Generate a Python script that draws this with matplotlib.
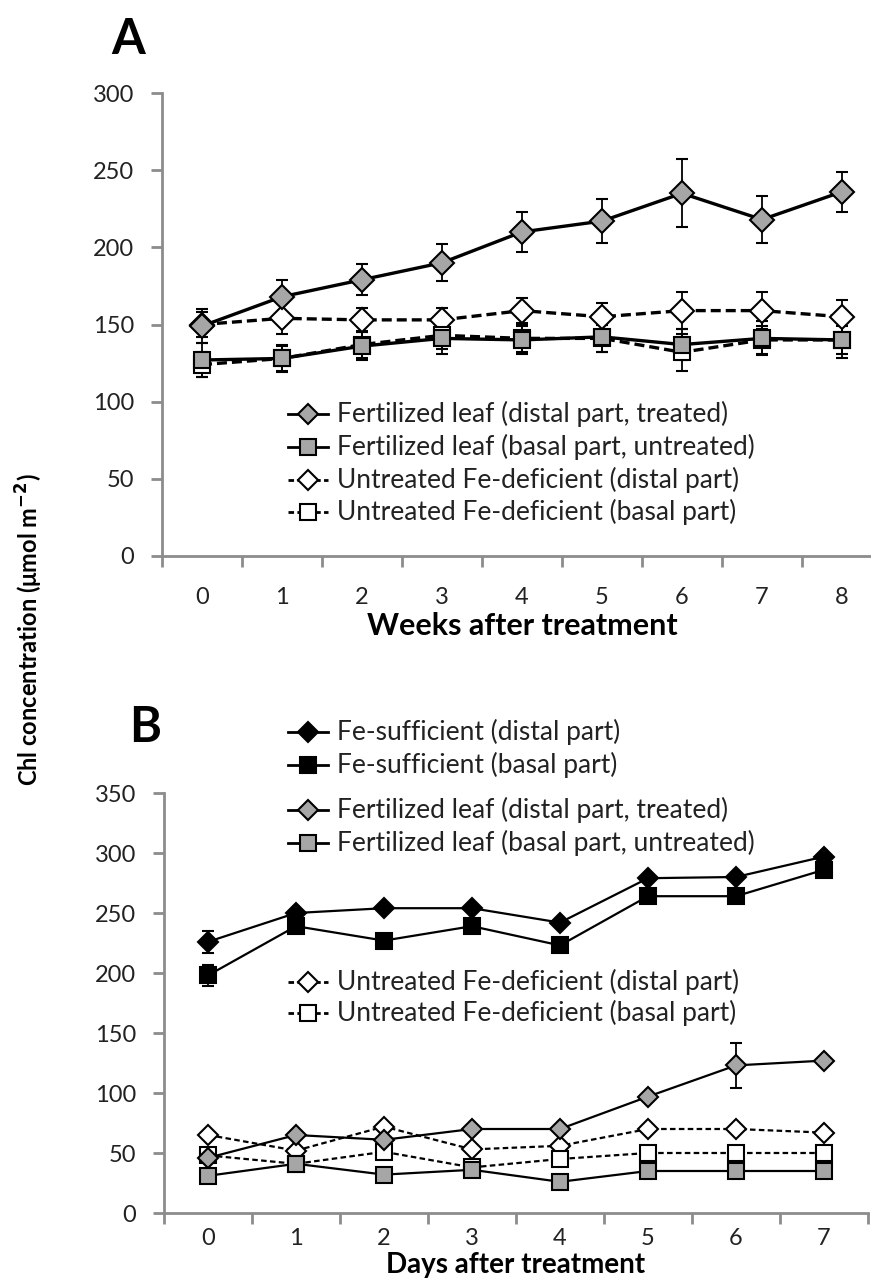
import matplotlib
matplotlib.use("Agg")
import matplotlib.pyplot as plt
from matplotlib.lines import Line2D
import numpy as np

plt.rcParams['font.family'] = ['Lato', 'DejaVu Sans']

# panel A data (weeks after treatment)
weeks = np.arange(9)
a_fert_distal = [149, 168, 179, 190, 210, 217, 235, 218, 236]
a_fert_distal_err = [11, 11, 10, 12, 13, 14, 22, 15, 13]
a_fert_basal = [127, 128, 136, 141, 140, 142, 137, 141, 140]
a_fert_basal_err = [11, 9, 9, 10, 9, 10, 10, 11, 12]
a_def_distal = [150, 154, 153, 153, 159, 155, 159, 159, 155]
a_def_distal_err = [8, 10, 8, 8, 8, 9, 12, 12, 11]
a_def_basal = [124, 128, 137, 143, 141, 141, 132, 140, 140]
a_def_basal_err = [8, 8, 9, 9, 9, 9, 12, 9, 9]

# panel B data (days after treatment)
days = np.arange(8)
b_suff_distal = [226, 250, 254, 254, 242, 279, 280, 297]
b_suff_distal_err = [9, 3, 3, 3, 3, 3, 3, 3]
b_suff_basal = [198, 239, 227, 239, 223, 264, 264, 286]
b_suff_basal_err = [9, 3, 3, 3, 3, 3, 3, 3]
b_fert_distal = [46, 65, 61, 70, 70, 97, 123, 127]
b_fert_distal_err = [3, 3, 3, 3, 3, 3, 19, 3]
b_fert_basal = [31, 41, 32, 36, 26, 35, 35, 35]
b_def_distal = [65, 52, 72, 53, 56, 70, 70, 67]
b_def_basal = [48, 41, 51, 38, 45, 50, 50, 50]

lab_fert_distal = "Fertilized leaf (distal part, treated)"
lab_fert_basal = "Fertilized leaf (basal part, untreated)"
lab_def_distal = "Untreated Fe-deficient (distal part)"
lab_def_basal = "Untreated Fe-deficient (basal part)"
lab_suff_distal = "Fe-sufficient (distal part)"
lab_suff_basal = "Fe-sufficient (basal part)"

W, H = 871, 1280
GRAY = "#a6a6a6"
SPINE = "#8c8c8c"

fig = plt.figure(figsize=(W / 100, H / 100), dpi=100)
axA = fig.add_axes([162 / W, 1 - 556 / H, 720 / W, 463 / H])
axB = fig.add_axes([164 / W, 1 - 1213 / H, 704 / W, 420 / H])


def style_axis(ax, n, ymax, step, xpad):
    ax.set_xlim(-0.5, n - 0.5)
    ax.set_ylim(0, ymax)
    for s in ["top", "right"]:
        ax.spines[s].set_visible(False)
    for s in ["left", "bottom"]:
        ax.spines[s].set_color(SPINE)
        ax.spines[s].set_linewidth(2)
    ax.set_yticks(np.arange(0, ymax + 1, step))
    ax.set_xticks(np.arange(n))
    ax.set_xticks(np.arange(-0.5, n, 1), minor=True)
    ax.tick_params(axis="y", length=8, width=2, color=SPINE, pad=12, labelsize=17, labelcolor="#222222")
    ax.tick_params(axis="x", which="major", length=0, pad=xpad, labelsize=17, labelcolor="#222222")
    ax.tick_params(axis="x", which="minor", length=8, width=2, color=SPINE)


def series(ax, x, y, err, marker, face, ls, ms, lw):
    ax.errorbar(x, y, yerr=err, color="black", ls=ls, lw=lw, marker=marker, ms=ms,
                mfc=face, mec="black", mew=1.5, ecolor="black", elinewidth=1.3,
                capsize=4, capthick=1.3)


dash_a = (0, (3, 1.5))
dash_b = (0, (2.5, 1.5))

# panel A
series(axA, weeks, a_def_distal, a_def_distal_err, "D", "white", dash_a, 12, 2.4)
series(axA, weeks, a_def_basal, a_def_basal_err, "s", "white", dash_a, 12, 2.4)
series(axA, weeks, a_fert_distal, a_fert_distal_err, "D", GRAY, "-", 12, 2.4)
series(axA, weeks, a_fert_basal, a_fert_basal_err, "s", GRAY, "-", 12, 2.4)
style_axis(axA, 9, 300, 50, 22)
axA.set_xlabel("Weeks after treatment", fontsize=22, fontweight="bold", labelpad=3)

# panel B
series(axB, days, b_def_distal, None, "D", "white", dash_b, 10, 1.6)
series(axB, days, b_def_basal, None, "s", "white", dash_b, 12, 1.6)
series(axB, days, b_fert_distal, b_fert_distal_err, "D", GRAY, "-", 10, 1.6)
series(axB, days, b_fert_basal, None, "s", GRAY, "-", 12, 1.6)
series(axB, days, b_suff_distal, b_suff_distal_err, "D", "black", "-", 10, 1.6)
series(axB, days, b_suff_basal, b_suff_basal_err, "s", "black", "-", 12, 1.6)
style_axis(axB, 8, 350, 50, 11)
axB.set_xlabel("Days after treatment", fontsize=20, fontweight="bold", labelpad=2)


def legend_row(y, marker, face, ls, ms, label):
    yf = 1 - y / H
    fig.add_artist(Line2D([288 / W, 328 / W], [yf, yf], transform=fig.transFigure,
                          color="black", lw=2, ls=ls))
    fig.add_artist(Line2D([308 / W], [yf], transform=fig.transFigure, marker=marker,
                          ms=ms, mfc=face, mec="black", mew=1.5, ls="none"))
    fig.text(337 / W, yf, label, va="center", ha="left", fontsize=19, color="#222222")


ls_leg = (0, (2, 1.2))
legend_row(414, "D", GRAY, "-", 10, lab_fert_distal)
legend_row(447, "s", GRAY, "-", 11, lab_fert_basal)
legend_row(480, "D", "white", ls_leg, 10, lab_def_distal)
legend_row(512, "s", "white", ls_leg, 11, lab_def_basal)

legend_row(732, "D", "black", "-", 10, lab_suff_distal)
legend_row(765, "s", "black", "-", 11, lab_suff_basal)
legend_row(810, "D", GRAY, "-", 10, lab_fert_distal)
legend_row(843, "s", GRAY, "-", 11, lab_fert_basal)
legend_row(982, "D", "white", ls_leg, 10, lab_def_distal)
legend_row(1013, "s", "white", ls_leg, 11, lab_def_basal)

fig.text(128 / W, 1 - 40 / H, "A", fontsize=35, fontweight="bold", ha="center", va="center")
fig.text(145 / W, 1 - 727 / H, "B", fontsize=35, fontweight="bold", ha="center", va="center")
fig.text(29 / W, 1 - 630 / H, "Chl concentration (\u03bcmol m$^{\\mathbf{-2}}$)", rotation=90,
         fontsize=17, fontweight="bold", ha="center", va="center")

fig.savefig("out.png", dpi=100)
